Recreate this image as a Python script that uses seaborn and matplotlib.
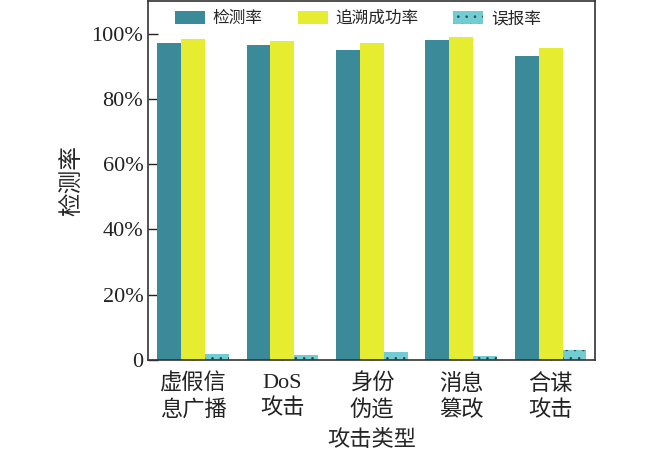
import matplotlib
matplotlib.use("Agg")
import matplotlib.pyplot as plt
import seaborn as sns
import pandas as pd
from matplotlib.ticker import FuncFormatter

# attack types (x categories), two-line labels
attacks = ["虚假信\n息广播", "DoS\n攻击", "身份\n伪造", "消息\n篡改", "合谋\n攻击"]
series = ["检测率", "追溯成功率", "误报率"]

# values in percent
detect = [97.0, 96.4, 95.1, 97.9, 93.2]
trace = [98.2, 97.6, 97.0, 98.9, 95.6]
false_alarm = [1.9, 1.6, 2.3, 1.3, 2.9]

colors = ["#3a8a99", "#e6ec30", "#72ccd3"]

rows = []
for name, vals in zip(series, [detect, trace, false_alarm]):
    for a, v in zip(attacks, vals):
        rows.append({"attack": a, "series": name, "value": v})
df = pd.DataFrame(rows)

sns.set_theme(style="white")
plt.rcParams["font.family"] = ["Liberation Serif", "Noto Sans CJK SC"]
plt.rcParams["hatch.linewidth"] = 0.6

fig = plt.figure(figsize=(6.5, 4.55), dpi=100)
ax = fig.add_axes([0.228, 0.209, 0.688, 0.789])

sns.barplot(data=df, x="attack", y="value", hue="series", palette=colors,
            width=0.8, saturation=1, ax=ax, linewidth=0)

# dotted hatch on the false alarm bars
for bar in ax.containers[2]:
    bar.set_hatch("..")
    bar.set_edgecolor("#2a4a4a")
    bar.set_linewidth(0)

ax.set_ylim(0, 110)
ax.set_xlim(-0.5, 4.5)
ax.set_yticks([0, 20, 40, 60, 80, 100])
ax.yaxis.set_major_formatter(FuncFormatter(lambda v, p: "0" if v == 0 else f"{v:.0f}%"))
ax.tick_params(axis="both", direction="in", length=7, width=1, labelsize=16,
               colors="#222222", left=True, bottom=True)
ax.tick_params(axis="x", pad=10)
for lab in ax.get_xticklabels():
    lab.set_linespacing(1.35)
ax.set_xlabel("攻击类型", fontsize=16, labelpad=6)
ax.set_ylabel("检测率", fontsize=17, labelpad=6)

for s in ax.spines.values():
    s.set_color("#333333")
    s.set_linewidth(1.2)

leg = ax.legend(loc="upper center", ncol=3, frameon=False, fontsize=12,
                handlelength=1.8, handleheight=0.8, columnspacing=2.1,
                handletextpad=0.45, borderaxespad=0.2, bbox_to_anchor=(0.469, 1.0))
leg_handles = getattr(leg, "legend_handles", None) or leg.legendHandles
leg_handles[2].set_hatch("..")
leg_handles[2].set_edgecolor("#2a4a4a")
leg_handles[2].set_linewidth(0)

fig.savefig("out.png", dpi=100)
